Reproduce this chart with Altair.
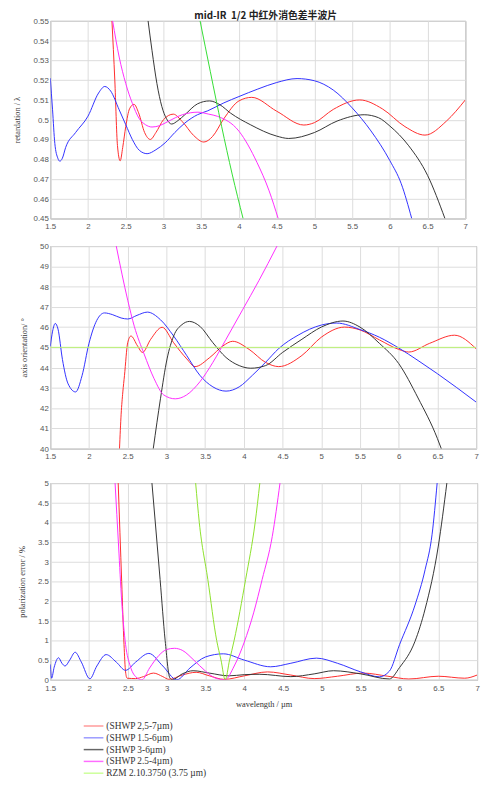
import altair as alt
import pandas as pd

TITLE = "mid-IR\u00a0 1/2 中红外消色差半波片"
SERIES = ["(SHWP 2,5-7µm)", "(SHWP 1.5-6µm)", "(SHWP 3-6µm)", "(SHWP 2.5-4µm)", "RZM 2.10.3750 (3.75 µm)"]
X_TICKS = [1.5, 2, 2.5, 3, 3.5, 4, 4.5, 5, 5.5, 6, 6.5, 7]

# ---- panel 1: retardation / lambda ----
RET_RED = [(2.317, 0.55), (2.355, 0.52), (2.39, 0.487), (2.426, 0.4792), (2.46, 0.486), (2.5, 0.4965),
           (2.55, 0.5055), (2.609, 0.5078), (2.67, 0.5035), (2.75, 0.4935), (2.826, 0.49), (2.9, 0.4935),
           (3.0, 0.5), (3.13, 0.5028), (3.25, 0.499), (3.4, 0.492), (3.535, 0.4887), (3.65, 0.4915),
           (3.8, 0.5005), (4.0, 0.5095), (4.17, 0.5113), (4.5, 0.5043), (4.86, 0.4973), (5.0, 0.4985),
           (5.25, 0.5052), (5.6, 0.51), (5.9, 0.5055), (6.2, 0.4965), (6.465, 0.4922), (6.75, 0.4993), (7.0, 0.51)]
RET_BLUE = [(1.5, 0.521), (1.53, 0.505), (1.56, 0.488), (1.6, 0.4805), (1.626, 0.479), (1.66, 0.4805),
            (1.704, 0.486), (1.835, 0.4935), (2.0, 0.5018), (2.14, 0.5135), (2.222, 0.5168), (2.3, 0.5145),
            (2.413, 0.505), (2.5, 0.4975), (2.587, 0.49), (2.68, 0.4845), (2.783, 0.4828), (2.9, 0.4848),
            (3.022, 0.4883), (3.15, 0.4935), (3.283, 0.4983), (3.45, 0.5025), (3.587, 0.5045), (3.8, 0.5085),
            (4.0, 0.5117), (4.25, 0.5155), (4.5, 0.5188), (4.77, 0.5208), (5.0, 0.5197), (5.25, 0.515),
            (5.5, 0.506), (5.75, 0.4943), (6.0, 0.4793), (6.15, 0.4677), (6.29, 0.45)]
RET_BLACK = [(2.796, 0.55), (2.848, 0.535), (2.913, 0.5183), (2.978, 0.5067), (3.04, 0.5005), (3.109, 0.4978),
             (3.19, 0.4995), (3.283, 0.5025), (3.45, 0.508), (3.61, 0.5095), (3.75, 0.5075), (3.89, 0.5033),
             (4.15, 0.4975), (4.5, 0.4917), (4.66, 0.4905), (5.0, 0.4935), (5.3, 0.4993), (5.66, 0.5025),
             (5.85, 0.501), (6.0, 0.4968), (6.25, 0.4868), (6.5, 0.4718), (6.73, 0.45)]
RET_MAGENTA = [(2.326, 0.55), (2.413, 0.5317), (2.5, 0.5183), (2.587, 0.5083), (2.674, 0.5008), (2.76, 0.4975),
               (2.848, 0.4963), (2.95, 0.497), (3.065, 0.4992), (3.25, 0.5025), (3.457, 0.5038), (3.6, 0.5028),
               (3.717, 0.5017), (4.0, 0.4942), (4.24, 0.4783), (4.4, 0.464), (4.52, 0.45)]
RET_GREEN = [(3.485, 0.55), (3.62, 0.5245), (3.77, 0.4967), (3.91, 0.4725), (4.055, 0.45)]

# ---- panel 2: axis orientation / deg ----
AX_RED = [(2.394, 40.0), (2.415, 41.7), (2.437, 42.8), (2.458, 43.6), (2.5, 45.23), (2.542, 45.56),
          (2.627, 45.07), (2.69, 44.75), (2.797, 45.4), (2.945, 45.99), (3.093, 45.23), (3.263, 44.43),
          (3.369, 44.05), (3.56, 44.5), (3.729, 45.07), (3.856, 45.3), (4.068, 44.9), (4.28, 44.26),
          (4.45, 44.05), (4.75, 44.6), (5.0, 45.5), (5.3, 46.0), (5.5, 45.86), (5.75, 45.37), (6.0, 44.9),
          (6.13, 44.77), (6.4, 45.2), (6.72, 45.6), (7.0, 44.93)]
AX_BLUE = [(1.5, 45.05), (1.53, 45.8), (1.564, 46.18), (1.6, 45.9), (1.657, 44.4), (1.73, 43.2), (1.827, 42.8),
           (1.91, 43.6), (2.0, 45.2), (2.1, 46.33), (2.2, 46.7), (2.3, 46.62), (2.415, 46.45), (2.5, 46.4),
           (2.62, 46.58), (2.754, 46.74), (2.924, 46.36), (3.093, 45.56), (3.263, 44.59), (3.432, 43.62),
           (3.6, 43.05), (3.77, 42.84), (3.94, 43.05), (4.11, 43.62), (4.28, 44.26), (4.45, 44.94),
           (4.7, 45.6), (5.0, 46.1), (5.2, 46.2), (5.5, 45.88), (5.75, 45.5), (6.0, 44.97), (6.25, 44.35),
           (6.5, 43.7), (7.0, 42.3)]
AX_BLACK = [(2.83, 40.0), (2.924, 42.49), (3.008, 44.43), (3.093, 45.56), (3.2, 46.12), (3.297, 46.28),
            (3.432, 46.04), (3.6, 45.23), (3.77, 44.5), (3.94, 44.1), (4.089, 43.97), (4.28, 44.1),
            (4.5, 44.75), (4.75, 45.4), (5.0, 46.0), (5.28, 46.3), (5.5, 46.0), (5.75, 45.2), (6.0, 44.2),
            (6.25, 42.5), (6.5, 40.5), (6.55, 40.0)]
AX_MAGENTA = [(2.352, 50.0), (2.5, 47.33), (2.585, 46.04), (2.712, 44.67), (2.84, 43.46), (2.966, 42.65),
              (3.114, 42.46), (3.26, 42.65), (3.432, 43.3), (3.6, 44.26), (3.77, 45.4), (3.983, 46.85),
              (4.195, 48.3), (4.428, 50.0)]
AX_GREEN = [(1.5, 45.0), (7.0, 45.0)]

# ---- panel 3: polarization error / % ----
PE_RED = [(2.375, 5.0), (2.42, 2.5), (2.45, 0.9), (2.47, 0.2), (2.49, 0.04), (2.6, 0.03), (2.7, 0.08),
          (2.83, 0.17), (2.95, 0.08), (3.03, 0.01), (3.2, 0.12), (3.38, 0.19), (3.55, 0.1), (3.74, 0.01),
          (4.0, 0.1), (4.3, 0.2), (4.6, 0.12), (4.9, 0.03), (5.2, 0.09), (5.53, 0.17), (5.85, 0.09),
          (6.12, 0.02), (6.5, 0.09), (6.84, 0.04), (7.0, 0.12)]
PE_BLUE = [(1.5, 0.39), (1.517, 0.04), (1.55, 0.32), (1.606, 0.56), (1.65, 0.42), (1.69, 0.35), (1.75, 0.5),
           (1.82, 0.7), (1.9, 0.45), (2.01, 0.025), (2.1, 0.35), (2.22, 0.64), (2.35, 0.45), (2.47, 0.24),
           (2.6, 0.45), (2.77, 0.67), (2.95, 0.35), (3.13, 0.0), (3.3, 0.3), (3.5, 0.58), (3.73, 0.66),
           (4.0, 0.5), (4.34, 0.33), (4.6, 0.42), (4.93, 0.55), (5.2, 0.42), (5.5, 0.2), (5.74, 0.075),
           (5.87, 0.22), (6.0, 0.89), (6.2, 1.9), (6.33, 2.8), (6.42, 3.7), (6.485, 5.0)]
PE_BLACK = [(2.81, 5.0), (2.915, 2.55), (2.98, 1.0), (3.04, 0.05), (3.07, 0.0), (3.2, 0.15), (3.34, 0.23),
            (3.55, 0.17), (3.8, 0.1), (4.0, 0.13), (4.2, 0.14), (4.6, 0.08), (4.9, 0.15), (5.15, 0.23),
            (5.5, 0.15), (5.87, 0.02), (6.0, 0.31), (6.2, 0.98), (6.33, 1.8), (6.5, 3.4), (6.61, 5.0)]
PE_MAGENTA = [(2.335, 5.0), (2.38, 3.4), (2.42, 2.0), (2.47, 0.9), (2.53, 0.35), (2.6, 0.08), (2.68, 0.0),
              (2.78, 0.3), (2.9, 0.62), (3.0, 0.77), (3.1, 0.8), (3.2, 0.75), (3.35, 0.5), (3.5, 0.22),
              (3.62, 0.05), (3.75, 0.0), (3.87, 0.35), (4.0, 0.96), (4.12, 1.7), (4.23, 2.55), (4.36, 3.64),
              (4.46, 5.0)]
PE_GREEN = [(3.373, 5.0), (3.42, 4.0), (3.53, 2.55), (3.644, 1.0), (3.70, 0.5), (3.754, 0.0), (3.81, 0.5),
            (3.869, 1.0), (4.017, 2.55), (4.14, 4.0), (4.2, 5.0)]

RET_TICKS = [0.45, 0.46, 0.47, 0.48, 0.49, 0.5, 0.51, 0.52, 0.53, 0.54, 0.55]
AX_TICKS = [40, 41, 42, 43, 44, 45, 46, 47, 48, 49, 50]
PE_TICKS = [0, 0.5, 1, 1.5, 2, 2.5, 3, 3.5, 4, 4.5, 5]

COLORS_P1 = ["#ff2b2b", "#3030ff", "#333333", "#ff2bff", "#33dd33"]
COLORS_P2 = ["#ff2b2b", "#3030ff", "#333333", "#ff2bff", "#b8f070"]
COLORS_P3 = ["#ff2b2b", "#3030ff", "#333333", "#ff2bff", "#8ce02a"]
LEGEND_COLORS = ["#ff9a9a", "#9a9aff", "#666666", "#ff6cff", "#ccff99"]

LABEL_FONT = "Liberation Sans"
SERIF = "Liberation Serif"


def panel(series_lists, colors, y_domain, y_ticks, y_fmt, y_title, title_x, width, height, x_title=None):
    rows = []
    for name, pts in zip(SERIES, series_lists):
        for wl, v in pts:
            rows.append({"series": name, "wl": wl, "val": v})
    df = pd.DataFrame(rows)
    x_axis = alt.Axis(values=X_TICKS, format=".1~f", labelFlush=False, labelOverlap=False,
                      labelPadding=4.5, title=x_title, titlePadding=8)
    y_axis = alt.Axis(values=y_ticks, format=y_fmt, labelFlush=False, labelOverlap=False,
                      labelPadding=2, labelOffset=0.5, title=y_title, titleX=title_x,
                      titleY=height / 2, titleAngle=270, titleAlign="center", titleBaseline="middle")
    ch = alt.Chart(df).mark_line(clip=True, interpolate="monotone", strokeWidth=1).encode(
        x=alt.X("wl:Q", scale=alt.Scale(domain=[1.5, 7], nice=False, zero=False), axis=x_axis),
        y=alt.Y("val:Q", scale=alt.Scale(domain=y_domain, nice=False, zero=False), axis=y_axis),
        color=alt.Color("series:N", scale=alt.Scale(domain=SERIES, range=colors), legend=None),
        detail="series:N",
    ).properties(width=width, height=height)
    # wrapping in a one-item hconcat lets each panel keep its own left edge
    return alt.hconcat(ch, spacing=0)


p1 = panel([RET_RED, RET_BLUE, RET_BLACK, RET_MAGENTA, RET_GREEN], COLORS_P1, [0.45, 0.55], RET_TICKS,
           ".2~f", "retardation / λ", -34.3, 422, 201)
p2 = panel([AX_RED, AX_BLUE, AX_BLACK, AX_MAGENTA, AX_GREEN], COLORS_P2, [40, 50], AX_TICKS,
           "d", "axis orientation/ °", -27.3, 433, 206)
p3 = panel([PE_RED, PE_BLUE, PE_BLACK, PE_MAGENTA, PE_GREEN], COLORS_P3, [0, 5], PE_TICKS,
           ".1~f", "polarization error / %", -29.5, 434, 200, x_title="wavelength / µm")

leg_df = pd.DataFrame({"series": SERIES})
leg_base = alt.Chart(leg_df).encode(
    y=alt.Y("series:N", sort=SERIES, axis=None, scale=alt.Scale(type="point", padding=0.5)))
leg_rules = leg_base.mark_rule(strokeWidth=1.5).encode(
    x=alt.value(34), x2=alt.value(54),
    color=alt.Color("series:N", scale=alt.Scale(domain=SERIES, range=LEGEND_COLORS), legend=None))
leg_text = leg_base.mark_text(align="left", baseline="middle", font=SERIF, fontSize=9.5, color="#333333").encode(
    x=alt.value(57), text="series:N")
legend = alt.layer(leg_rules, leg_text).properties(
    width=200, height=60, view=alt.ViewBackground(strokeOpacity=0))

top = alt.vconcat(p1, p2, spacing=11).resolve_scale(color="independent")
mid = alt.vconcat(top, p3, spacing=18).resolve_scale(color="independent")
chart = alt.vconcat(mid, legend, spacing=11).resolve_scale(color="independent").properties(
    title=alt.TitleParams(TITLE, font="Noto Sans CJK SC", fontSize=10, fontWeight="bold", color="#222222",
                          anchor="middle", offset=-4.5, dx=20),
    padding={"left": 4, "top": -3.5, "right": 4, "bottom": 4},
).configure_view(stroke="#8c8c8c", strokeWidth=1).configure_axis(
    ticks=False, domain=False, gridColor="#dcdcdc", gridWidth=1,
    labelFont=LABEL_FONT, labelFontSize=8, labelColor="#555555",
    titleFont=SERIF, titleFontSize=8.5, titleFontWeight="normal", titleColor="#333333",
)

chart.save("out.html", embed_options={"renderer": "svg", "actions": False})
